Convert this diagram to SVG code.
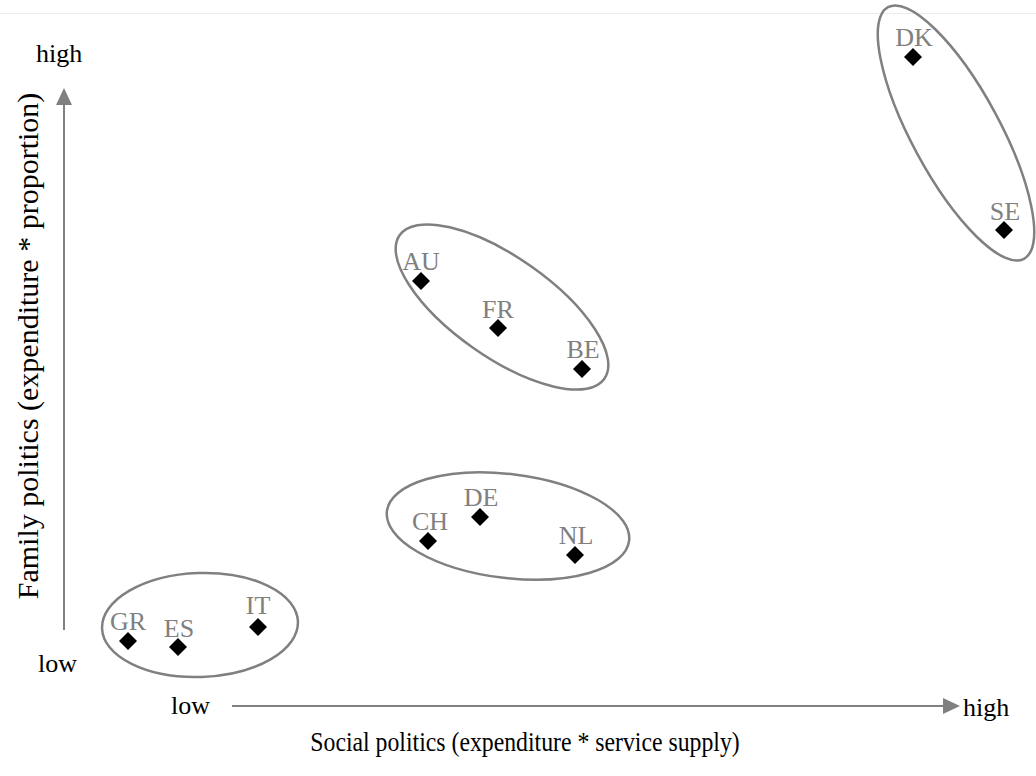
<svg xmlns="http://www.w3.org/2000/svg" width="1036" height="776" viewBox="0 0 1036 776">
<defs>
<style>
.ax{font-family:"Liberation Serif","Times New Roman",serif;font-size:26px;fill:#000}
.lbl{font-family:"Liberation Serif","Times New Roman",serif;font-size:26px;fill:#808080;text-anchor:middle}
.grp{fill:none;stroke:#808080;stroke-width:2.5}
.axis{stroke:#808080;stroke-width:2;fill:none}
.pt{fill:#000}
</style>
<path id="dia" d="M0,-9 L9,0 L0,9 L-9,0 z"/>
</defs>
<rect width="1036" height="776" fill="#fff"/>
<line x1="0" y1="13.5" x2="1036" y2="13.5" stroke="#ebebeb" stroke-width="1"/>

<g id="connectors">
<line class="axis" x1="64" y1="630" x2="64" y2="104"/>
<path d="M64,88 L72,105 L56,105 z" fill="#808080"/>
<line class="axis" x1="232" y1="706" x2="944" y2="706"/>
<path d="M960,706 L943,698 L943,714 z" fill="#808080"/>
</g>

<g id="axis-labels">
<text class="ax" x="36" y="62">high</text>
<text class="ax" x="38" y="672">low</text>
<text class="ax" x="171" y="714">low</text>
<text class="ax" x="963" y="716">high</text>
<text class="ax" transform="translate(525,751) scale(0.88,1)" text-anchor="middle" style="font-size:27px">Social politics (expenditure * service supply)</text>
<text class="ax" transform="translate(38,346) rotate(-90)" text-anchor="middle" style="font-size:30px">Family politics (expenditure * proportion)</text>
</g>

<g id="group-nordic"><ellipse class="grp" cx="956" cy="133" rx="143" ry="44" transform="rotate(61.6 956 133)"/></g>
<g id="group-continental"><ellipse class="grp" cx="502" cy="307" rx="125" ry="50" transform="rotate(35 502 307)"/></g>
<g id="group-central"><ellipse class="grp" cx="508" cy="526" rx="122" ry="52" transform="rotate(7 508 526)"/></g>
<g id="group-south"><ellipse class="grp" cx="200" cy="625" rx="98" ry="52" transform="rotate(-2 200 625)"/></g>

<g id="DK"><use href="#dia" x="913" y="57" class="pt"/><text class="lbl" x="914" y="46">DK</text></g>
<g id="SE"><use href="#dia" x="1004" y="230" class="pt"/><text class="lbl" x="1005" y="220">SE</text></g>
<g id="AU"><use href="#dia" x="421" y="281" class="pt"/><text class="lbl" x="421" y="270">AU</text></g>
<g id="FR"><use href="#dia" x="498" y="328" class="pt"/><text class="lbl" x="498" y="318">FR</text></g>
<g id="BE"><use href="#dia" x="582" y="369" class="pt"/><text class="lbl" x="583" y="358">BE</text></g>
<g id="DE"><use href="#dia" x="480" y="517" class="pt"/><text class="lbl" x="481" y="506">DE</text></g>
<g id="CH"><use href="#dia" x="428" y="541" class="pt"/><text class="lbl" x="430" y="530">CH</text></g>
<g id="NL"><use href="#dia" x="575" y="555" class="pt"/><text class="lbl" x="576" y="544">NL</text></g>
<g id="GR"><use href="#dia" x="128" y="641" class="pt"/><text class="lbl" x="128" y="630">GR</text></g>
<g id="ES"><use href="#dia" x="178" y="647" class="pt"/><text class="lbl" x="179" y="637">ES</text></g>
<g id="IT"><use href="#dia" x="258" y="627" class="pt"/><text class="lbl" x="258" y="614">IT</text></g>
</svg>
